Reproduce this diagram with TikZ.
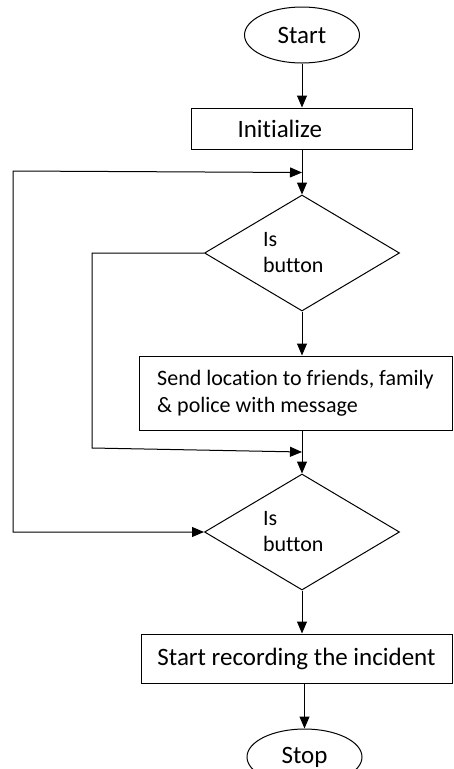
\documentclass[tikz,border=0pt]{standalone}
\usepackage{fontspec}
\setmainfont{Carlito}[Ligatures={NoCommon}]
\usetikzlibrary{positioning,arrows.meta,shapes.geometric}

\begin{document}
\begin{tikzpicture}[
x=1pt,y=1pt,
>={Triangle[length=12pt,width=10pt]},
node distance=44pt,
line width=1pt,
term/.style={
draw,
ellipse,
minimum width=115pt,
minimum height=56pt,
inner sep=0pt,
font=\fontsize{25}{30}\selectfont
},
proc/.style={
draw,
rectangle,
inner sep=0pt,
font=\fontsize{25}{30}\selectfont
},
decide/.style={
draw,
diamond,
aspect=1.68,
minimum width=195pt,
minimum height=116pt,
inner sep=0pt,
text width=78pt,
align=left,
font=\fontsize{22}{26}\selectfont
}
]

\useasboundingbox (0,0) rectangle (454,-769);

%%%%%%%%%%%%%%%%%%%%%%%%%%%%%%%%%%%%
% Main Column
%%%%%%%%%%%%%%%%%%%%%%%%%%%%%%%%%%%%

\node[term] (start) at (302,-35)
{Start};

\node[proc,below=44pt of start,minimum width=221pt,minimum height=41pt,
text width=129pt,inner xsep=46pt,align=left] (init)
{Initialize};

\node[decide,below=45pt of init] (check1)
{Is\\button};

\node[proc,below=44pt of check1,xshift=-6.5pt,minimum width=313pt,
minimum height=74pt,align=left,font=\fontsize{22}{27}\selectfont] (send)
{Send location to friends, family\\\& police with message};

\node[decide,below=43pt of send,xshift=6.5pt] (check2)
{Is\\button};

\node[proc,below=43pt of check2,xshift=-5.5pt,minimum width=311pt,
minimum height=49pt] (record)
{Start recording the incident};

\node[term,below=45pt of record,xshift=8pt] (stop)
{Stop};

%%%%%%%%%%%%%%%%%%%%%%%%%%%%%%%%%%%%
% Loop Points
%%%%%%%%%%%%%%%%%%%%%%%%%%%%%%%%%%%%

\coordinate (join1) at ([yshift=22pt]check1.north);
\coordinate (join2) at ([yshift=21.5pt]check2.north);
\coordinate (outerl) at (13,-171);
\coordinate (innerl) at (92,-448);

%%%%%%%%%%%%%%%%%%%%%%%%%%%%%%%%%%%%
% Connections
%%%%%%%%%%%%%%%%%%%%%%%%%%%%%%%%%%%%

\draw[->] (start)--(init);

\draw[->] (init)--(check1);

\draw[->] (check1)--(check1.south |- send.north);

\draw[->] (send.south -| check2.north)--(check2);

\draw[->] (check2)--(check2.south |- record.north);

\draw[->] (record.south -| stop.north)--(stop);

\draw[<->] (join1)--(outerl) |- (check2.west);

\draw[->] (check1.west) -| (innerl)--(join2);

\end{tikzpicture}
\end{document}
